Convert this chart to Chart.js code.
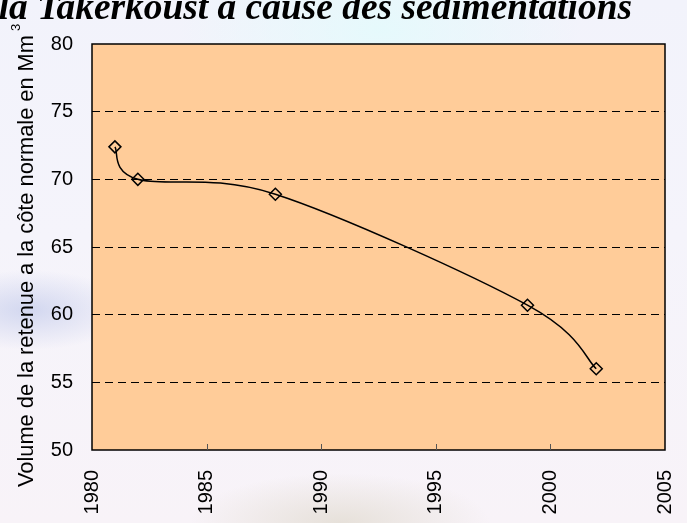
<!DOCTYPE html>
<html>
<head>
<meta charset="utf-8">
<script src="https://cdn.jsdelivr.net/npm/chart.js@4/dist/chart.umd.min.js"></script>
<style>
  html, body { margin: 0; padding: 0; }
  body {
    width: 687px; height: 523px; overflow: hidden;
    background:
      radial-gradient(ellipse 150px 50px at 340px 523px, rgba(226,220,210,0.8), rgba(232,228,220,0) 100%),
      radial-gradient(ellipse 100px 40px at 30px 310px, rgba(195,203,235,0.7), rgba(205,212,240,0) 100%),
      radial-gradient(ellipse 200px 110px at 380px 30px, rgba(228,250,252,0.9), rgba(238,252,252,0) 100%),
      linear-gradient(180deg, #f2f3fb 0%, #f5f4fb 45%, #f8f3f8 100%);
  }
  #wrap { position: relative; width: 687px; height: 523px; }
</style>
</head>
<body>
<div id="wrap"><canvas id="graf" width="687" height="523"></canvas></div>
<script>
// Données
const annees = [1981, 1982, 1988, 1999, 2002];
const volumes = [72.4, 70.0, 68.9, 60.7, 56.0];
const yTicks = [50, 55, 60, 65, 70, 75, 80];
const xTicks = [1980, 1985, 1990, 1995, 2000, 2005];

const titre = 'Lalla Takerkoust à cause des sédimentations';
const titreAxeY = 'Volume de la retenue a la côte normale en Mm';
const exposantAxeY = '3';

// lissage façon Excel (Catmull-Rom, 1/6) sur les points calculés par Chart.js
const lissagePlugin = {
    id: 'lissage',
    beforeDatasetDraw(chart, args) {
        const meta = args.meta;
        const pts = meta.data;
        const n = pts.length;
        for (let i = 0; i < n; i++) {
            const p = pts[i];
            const a = pts[Math.max(i - 1, 0)];
            const b = pts[Math.min(i + 1, n - 1)];
            const dx = (b.x - a.x) / 6;
            const dy = (b.y - a.y) / 6;
            p.cp1x = p.x - dx; p.cp1y = p.y - dy;
            p.cp2x = p.x + dx; p.cp2y = p.y + dy;
        }
        meta.dataset._path = undefined;
        meta.dataset._pointsUpdated = true;
    }
};

// fond orange + cadre + petites graduations + titres
const cadrePlugin = {
    id: 'cadre',
    beforeDraw(chart) {
        const { ctx, chartArea: a } = chart;
        ctx.save();
        ctx.fillStyle = '#FFCC99';
        ctx.fillRect(a.left, a.top, a.right - a.left, a.bottom - a.top);
        ctx.restore();
    },
    afterDraw(chart) {
        const { ctx, chartArea: a } = chart;
        const x = chart.scales.x;
        ctx.save();
        ctx.strokeStyle = '#000';
        ctx.lineWidth = 1.5;
        ctx.strokeRect(a.left, a.top, a.right - a.left, a.bottom - a.top);
        ctx.lineWidth = 1;
        ctx.strokeStyle = '#555';
        xTicks.slice(1, -1).forEach(function(v) {
            const px = Math.round(x.getPixelForValue(v)) + 0.5;
            ctx.beginPath();
            ctx.moveTo(px, a.bottom);
            ctx.lineTo(px, a.bottom - 6);
            ctx.stroke();
        });

        // titre (coupé en haut et à gauche)
        ctx.font = "bold italic 32px 'Liberation Serif', 'Times New Roman', serif";
        const w = ctx.measureText('la Takerkoust à cause des sédimentations').width;
        const taille = 32 * 634 / w;
        ctx.font = "bold italic " + taille.toFixed(1) + "px 'Liberation Serif', 'Times New Roman', serif";
        ctx.fillStyle = '#000';
        ctx.textAlign = 'right';
        ctx.textBaseline = 'alphabetic';
        ctx.fillText(titre, 632, 19);

        // titre de l'axe Y avec exposant
        ctx.translate(33, 487);
        ctx.rotate(-Math.PI / 2);
        ctx.textAlign = 'left';
        ctx.font = "21.8px 'Liberation Sans', Arial, sans-serif";
        ctx.fillText(titreAxeY, 0, 0);
        const lw = ctx.measureText(titreAxeY).width;
        ctx.font = "13px 'Liberation Sans', Arial, sans-serif";
        ctx.fillText(exposantAxeY, lw + 4, -13);
        ctx.restore();
    }
};

const ctx = document.getElementById('graf');

new Chart(ctx, {
    type: 'scatter',
    data: {
        datasets: [{
            data: annees.map(function(a, i) { return { x: a, y: volumes[i] }; }),
            showLine: true,
            borderColor: '#000',
            borderWidth: 1.5,
            tension: 0.4,
            pointStyle: 'rectRot',
            pointRadius: 6,
            pointBorderWidth: 1.5,
            pointBorderColor: '#000',
            pointBackgroundColor: 'rgba(0,0,0,0)'
        }]
    },
    options: {
        responsive: false,
        animation: false,
        events: [],
        layout: {
            padding: { top: 44, right: 22, bottom: 0, left: 0 }
        },
        plugins: {
            legend: { display: false },
            tooltip: { enabled: false }
        },
        scales: {
            x: {
                type: 'linear',
                min: 1980,
                max: 2005,
                afterBuildTicks: function(scale) {
                    scale.ticks = xTicks.map(function(v) { return { value: v }; });
                },
                afterFit: function(scale) {
                    scale.height = 73;
                    scale.paddingLeft = 0;
                    scale.paddingRight = 0;
                },
                grid: { display: false, drawTicks: false },
                border: { display: false },
                ticks: {
                    minRotation: 90,
                    maxRotation: 90,
                    padding: 20,
                    color: '#000',
                    font: { family: "'Liberation Sans', Arial, sans-serif", size: 20 },
                    callback: function(value) { return String(value); }
                }
            },
            y: {
                min: 50,
                max: 80,
                afterBuildTicks: function(scale) {
                    scale.ticks = yTicks.map(function(v) { return { value: v }; });
                },
                afterFit: function(scale) { scale.width = 92; },
                grid: {
                    drawTicks: false,
                    color: function(c) {
                        return (c.tick.value === 50 || c.tick.value === 80) ? 'rgba(0,0,0,0)' : '#000';
                    },
                    lineWidth: 1
                },
                border: { display: false, dash: [8, 5] },
                ticks: {
                    padding: 19,
                    color: '#000',
                    font: { family: "'Liberation Sans', Arial, sans-serif", size: 20 }
                }
            }
        }
    },
    plugins: [lissagePlugin, cadrePlugin]
});
</script>
</body>
</html>
